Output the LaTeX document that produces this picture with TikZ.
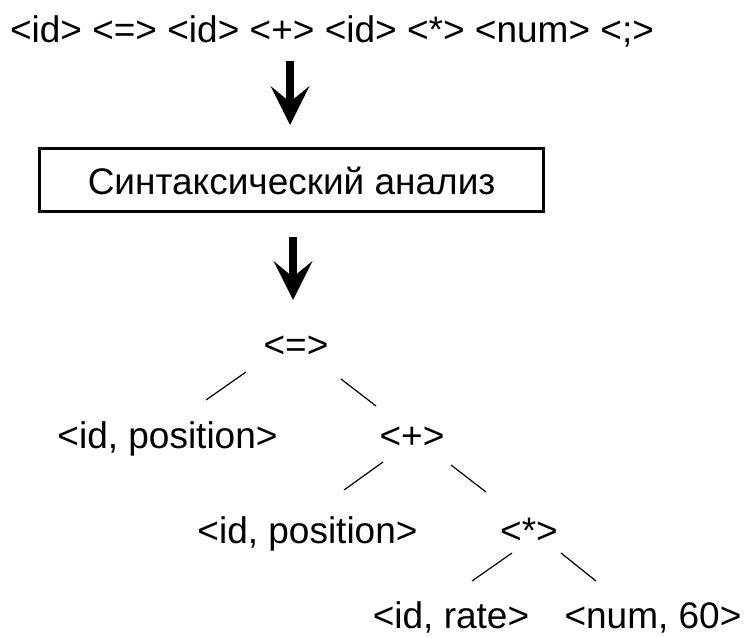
\documentclass[tikz,border=0pt]{standalone}
\usepackage{fontspec}
\setmainfont{Liberation Sans}
\usetikzlibrary{calc}

% thick block arrow: x position, top of the shaft, tip
\newcommand\blockarrow[3]{%
  \fill (#1-4,#2) rectangle (#1+4,#3-20);
  \fill (#1-19.5,#3-39) -- (#1,#3) -- (#1+19.5,#3-39) -- (#1,#3-23) -- cycle;
}

\begin{document}
\begin{tikzpicture}[x=1pt,y=-1pt,
    every node/.style={font=\fontsize{37}{44}\selectfont},
    lbl/.style={anchor=base, inner sep=0pt},
    stagebox/.style={draw, line width=2.5pt, minimum width=504pt,
      minimum height=63pt, text height=28pt, text depth=0pt, inner sep=0pt},
    edge/.style={line width=1.2pt}]
  \useasboundingbox (0,0) rectangle (744,637);

  % token stream
  \node[lbl] (tokens) at (332,42) {<id> <=> <id> <+> <id> <*> <num> <;>};

  % parser stage
  \node[stagebox] (parse) at (291.6,180) {Синтаксический анализ};

  % arrows between stages
  \blockarrow{290}{61}{125}
  \blockarrow{293}{237}{300}

  % syntax tree
  \node[lbl] (root) at (296,357) {<=>};
  \node[lbl] (l1)   at (167.5,448) {<id, position>};
  \node[lbl] (plus) at (412,448) {<+>};
  \node[lbl] (l2)   at (307.5,543) {<id, position>};
  \node[lbl] (star) at (529,543) {<*>};
  \node[lbl] (rate) at (451,628) {<id, rate>};
  \node[lbl] (num)  at (653,628) {<num, 60>};

  \draw[edge] ($(root.base)+(-50,15)$) -- ($(l1.base)+(38.5,-48)$);
  \draw[edge] ($(root.base)+(45,22)$)  -- ($(plus.base)+(-36,-42)$);
  \draw[edge] ($(plus.base)+(-29,14)$) -- ($(l2.base)+(36.5,-53)$);
  \draw[edge] ($(plus.base)+(39,17)$)  -- ($(star.base)+(-43,-51)$);
  \draw[edge] ($(star.base)+(-17,10)$) -- ($(rate.base)+(21,-47)$);
  \draw[edge] ($(star.base)+(32,10)$)  -- ($(num.base)+(-57,-47)$);
\end{tikzpicture}
\end{document}
